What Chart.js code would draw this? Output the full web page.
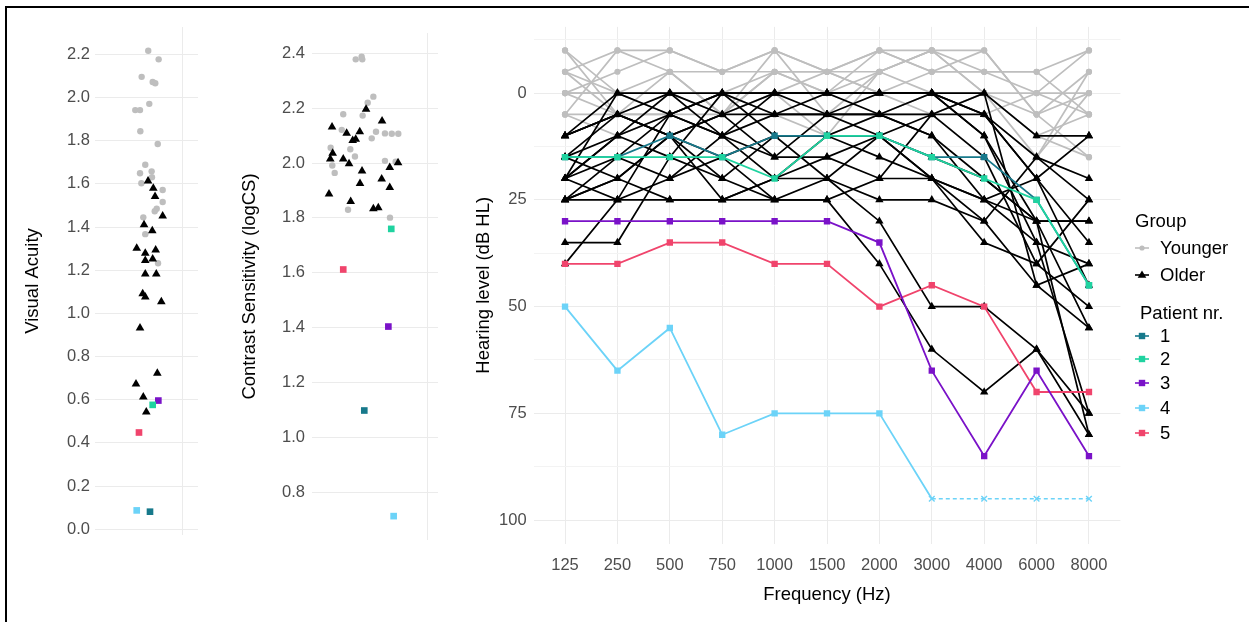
<!DOCTYPE html>
<html>
<head>
<meta charset="utf-8">
<title>Visual acuity, contrast sensitivity and hearing level</title>
<script src="https://cdn.jsdelivr.net/npm/chart.js@4.4.1/dist/chart.umd.min.js"></script>
<style>
    body { margin: 0; background: #fff; font-family: "Liberation Sans", Arial, sans-serif; }
    #page { position: relative; width: 1249px; height: 622px; overflow: hidden; background: #fff; }
    #frame { position: absolute; left: 5px; top: 6px; width: 1300px; height: 700px; border-top: 2px solid #000; border-left: 2px solid #000; }
    .panel { position: absolute; }
    .lg { position: absolute; font-size: 18.5px; line-height: 22px; color: #000; white-space: nowrap; }
    .lg svg { position: absolute; left: 0; top: 4px; }
    .lg span { position: absolute; left: 25px; top: 0; }
</style>
</head>
<body>
<div id="page">
    <div id="frame"></div>
    <canvas id="chart-va" class="panel" width="200" height="570" style="left:10px;top:10px"></canvas>
    <canvas id="chart-cs" class="panel" width="220" height="570" style="left:230px;top:10px"></canvas>
    <canvas id="chart-hl" class="panel" width="779" height="612" style="left:470px;top:10px"></canvas>
    <div id="legend"></div>
</div>
<script>
// ============================================
// DATA
// ============================================

const patientNames = ['1', '2', '3', '4', '5'];
const patientColors = ['#17798b', '#1fd3a0', '#7a12c8', '#6cd3f8', '#f0446c'];

// Visual acuity (left panel), jitter = horizontal offset
const vaTicks = [0, 0.2, 0.4, 0.6, 0.8, 1.0, 1.2, 1.4, 1.6, 1.8, 2.0, 2.2];
const vaYounger = [2.217, 2.177, 2.096, 2.072, 2.066, 1.942, 1.942, 1.971, 1.844, 1.785, 1.689,
    1.649, 1.658, 1.631, 1.603, 1.572, 1.516, 1.485, 1.473, 1.445, 1.367, 1.232];
const vaYoungerJit = [0.017, 0.118, -0.047, 0.060, 0.085, -0.109, -0.063, 0.027, -0.060, 0.109, -0.012,
    -0.063, 0.050, 0.053, -0.050, 0.157, 0.157, 0.099, 0.080, -0.031, -0.012, 0.112];
const vaOlder = [1.613, 1.580, 1.541, 1.451, 1.411, 1.383, 1.302, 1.279, 1.294, 1.245, 1.252,
    1.183, 1.183, 1.091, 1.076, 1.054, 0.932, 0.722, 0.673, 0.613, 0.543];
const vaOlderJit = [0.015, 0.066, 0.083, 0.157, -0.024, 0.056, -0.095, -0.012, 0.089, -0.012, 0.060,
    -0.012, 0.095, -0.037, -0.012, 0.144, -0.063, 0.105, -0.102, -0.031, -0.002];
const vaPatients = [0.081, 0.576, 0.596, 0.087, 0.448];
const vaPatientsJit = [0.034, 0.060, 0.115, -0.095, -0.073];

// Contrast sensitivity (middle panel)
const csTicks = [0.8, 1.0, 1.2, 1.4, 1.6, 1.8, 2.0, 2.2, 2.4];
const csYounger = [2.378, 2.388, 2.378, 2.242, 2.220, 2.178, 2.173, 2.121, 2.114, 2.108, 2.107,
    2.107, 2.090, 2.056, 2.050, 1.991, 2.024, 2.008, 1.964, 2.005, 1.830, 1.801];
const csYoungerJit = [-0.153, -0.106, -0.101, -0.013, -0.058, -0.252, -0.098, -0.264, 0.008, 0.079, 0.133,
    0.185, -0.026, -0.352, -0.196, -0.339, -0.159, 0.079, -0.320, 0.164, -0.214, 0.119];
const csOlder = [2.131, 2.196, 2.153, 2.109, 2.114, 2.082, 2.087, 2.036, 2.015, 2.015, 1.997,
    2.001, 1.984, 1.971, 1.925, 1.942, 1.911, 1.887, 1.860, 1.833, 1.837];
const csOlderJit = [-0.341, -0.071, 0.056, -0.225, -0.121, -0.177, -0.153, -0.336, -0.355, -0.252, -0.206,
    0.183, 0.117, -0.103, -0.119, 0.053, 0.117, -0.365, -0.193, -0.013, 0.026];
const csPatients = [1.098, 1.760, 1.404, 0.713, 1.612];
const csPatientsJit = [-0.085, 0.129, 0.106, 0.148, -0.252];

// Audiogram (right panel)
const freqs = ['125', '250', '500', '750', '1000', '1500', '2000', '3000', '4000', '6000', '8000'];
const hlTicks = [-12.5, 0, 12.5, 25, 37.5, 50, 62.5, 75, 87.5, 100];

const hlYounger = [
    [-10, 5, 5, 10, 5, 10, 5, 5, 0, 5, 15],
    [-5, -10, -10, -5, -10, -5, -10, -10, -10, 5, -5],
    [0, 0, 0, 0, 0, 0, 0, 0, 0, 0, 0],
    [5, -10, -5, -5, -5, -5, -5, -10, -5, 0, -10],
    [-5, 5, 10, 5, -5, 0, -10, -5, -10, 5, 0],
    [5, 5, -5, 5, -10, 5, -5, -10, 0, 10, 5],
    [0, 5, 5, 0, -5, -5, 0, -5, -5, -5, 5],
    [-10, 0, -5, 5, 0, 10, -5, 0, 5, 15, -5],
    [0, -5, -10, -5, -10, -5, -10, -5, -5, -5, -10],
    [-5, 0, 0, 5, -5, 0, -5, -10, 0, 10, 15],
    [5, 10, 5, 5, 0, -5, 0, 5, 0, 15, 0],
    [0, 0, 5, 0, 5, 5, 5, 0, 5, 0, 5]
];

const hlOlder = [
    [10, 0, 0, 0, 0, 0, 0, 0, 0, 10, 10],
    [10, 5, 10, 5, 5, 0, 0, 0, 5, 15, 20],
    [15, 10, 5, 0, 0, 5, 0, 0, 10, 35, 75],
    [20, 0, 5, 10, 5, 5, 5, 10, 25, 30, 30],
    [20, 10, 0, 5, 0, 0, 5, 5, 15, 40, 50],
    [25, 15, 5, 0, 10, 10, 15, 20, 30, 45, 55],
    [25, 20, 10, 5, 15, 15, 20, 20, 35, 40, 25],
    [10, 5, 10, 20, 10, 10, 10, 15, 20, 30, 30],
    [20, 25, 20, 10, 20, 20, 25, 25, 30, 15, 25],
    [35, 35, 15, 0, 5, 5, 10, 20, 25, 35, 40],
    [40, 25, 5, 10, 0, 0, 0, 0, 10, 30, 80],
    [15, 20, 25, 25, 20, 15, 10, 20, 25, 20, 35],
    [25, 25, 25, 25, 25, 25, 40, 60, 70, 60, 80],
    [20, 15, 20, 15, 10, 20, 30, 50, 50, 60, 75],
    [10, 5, 0, 10, 15, 5, 5, 0, 5, 20, 10],
    [25, 20, 10, 15, 25, 25, 20, 5, 5, 20, 45],
    [20, 10, 15, 20, 25, 20, 10, 5, 0, 45, 40],
    [15, 5, 10, 25, 20, 10, 5, 10, 20, 30, 55]
];

const hlPat1 = [15, 15, 10, 15, 10, 10, 10, 15, 15, 25, 45];
const hlPat2 = [15, 15, 15, 15, 20, 10, 10, 15, 20, 25, 45];
const hlPat3 = [30, 30, 30, 30, 30, 30, 35, 65, 85, 65, 85];
const hlPat4 = [50, 65, 55, 80, 75, 75, 75, 95, 95, 95, 95];
const hlPat4NoResponse = [false, false, false, false, false, false, false, true, true, true, true];
const hlPat5 = [40, 40, 35, 35, 40, 40, 50, 45, 50, 70, 70];

// ============================================
// DEFAULTS
// ============================================

const FONT = '"Liberation Sans", Arial, sans-serif';
Chart.defaults.font.family = FONT;
Chart.defaults.animation = false;
Chart.defaults.plugins.legend.display = false;
Chart.defaults.plugins.tooltip.enabled = false;

const GRID = '#ebebeb';
const TICK_COLOR = '#4d4d4d';
const GREY = '#bebebe';

function pts(vals, jit) {
    return vals.map((v, i) => ({ x: jit[i], y: v }));
}

// ============================================
// STRIP CHARTS (VA + CS)
// ============================================

function stripDatasets(yVals, yJit, oVals, oJit, pVals, pJit) {
    const ds = [];
    pVals.forEach((v, i) => {
        ds.push({
            data: [{ x: pJit[i], y: v }],
            pointStyle: 'rect',
            pointRadius: 4.7,
            backgroundColor: patientColors[i],
            borderWidth: 0,
            order: 0
        });
    });
    ds.push({
        data: pts(oVals, oJit),
        pointStyle: 'triangle',
        pointRadius: 5,
        backgroundColor: '#000',
        borderWidth: 0,
        order: 1
    });
    ds.push({
        data: pts(yVals, yJit),
        pointStyle: 'circle',
        pointRadius: 3.2,
        backgroundColor: GREY,
        borderWidth: 0,
        order: 2
    });
    return ds;
}

function initStripChart(id, datasets, cfg) {
    new Chart(document.getElementById(id), {
        type: 'scatter',
        data: { datasets: datasets },
        options: {
            responsive: false,
            devicePixelRatio: 1,
            layout: { padding: cfg.padding },
            scales: {
                x: {
                    type: 'linear',
                    min: -0.5,
                    max: 0.5,
                    afterBuildTicks: s => { s.ticks = [{ value: cfg.gridX }]; },
                    ticks: { display: false },
                    grid: { color: GRID, drawTicks: false },
                    border: { display: false },
                    afterFit: s => { s.height = 0; }
                },
                y: {
                    min: cfg.min,
                    max: cfg.max,
                    afterBuildTicks: s => { s.ticks = cfg.ticks.map(v => ({ value: v })); },
                    ticks: {
                        color: TICK_COLOR,
                        font: { size: 16.5 },
                        padding: cfg.tickPad,
                        callback: v => v.toFixed(1)
                    },
                    grid: { color: GRID, drawTicks: false },
                    border: { display: false },
                    title: {
                        display: true,
                        text: cfg.title,
                        color: '#000',
                        font: { size: 18.5 },
                        padding: { top: cfg.titlePad, bottom: 0 }
                    },
                    afterFit: s => { s.width = cfg.axisWidth; }
                }
            }
        }
    });
}

// ============================================
// AUDIOGRAM
// ============================================

function linePts(vals) {
    return vals.map((v, i) => ({ x: i, y: v }));
}

function hearingDatasets() {
    const ds = [];
    const pats = [hlPat1, hlPat2, hlPat3, hlPat5];
    const patIdx = [0, 1, 2, 4];

    pats.forEach((vals, k) => {
        const c = patientColors[patIdx[k]];
        ds.push({
            data: linePts(vals),
            borderColor: c,
            borderWidth: 1.8,
            pointStyle: 'rect',
            pointRadius: 4.5,
            pointBackgroundColor: c,
            pointBorderWidth: 0,
            order: patIdx[k] === 0 ? 1 : 0
        });
    });

    // patient 4: measured part solid, no-response part dashed with crosses
    const c4 = patientColors[3];
    const measured = hlPat4.map((v, i) => (i === 0 || !hlPat4NoResponse[i - 1]) ? v : null);
    ds.push({
        data: linePts(measured),
        borderColor: c4,
        borderWidth: 1.8,
        pointStyle: 'rect',
        pointRadius: hlPat4NoResponse.map(nr => nr ? 0 : 4.5),
        pointBackgroundColor: c4,
        pointBorderWidth: 0,
        spanGaps: false,
        order: 0
    });
    const noResp = hlPat4.map((v, i) => (hlPat4NoResponse[i] ? v : null));
    ds.push({
        data: linePts(noResp),
        borderColor: c4,
        borderWidth: 1.5,
        borderDash: [4, 3],
        pointStyle: 'crossRot',
        pointRadius: 4,
        pointBorderColor: c4,
        pointBorderWidth: 1.4,
        spanGaps: false,
        order: 0
    });

    hlOlder.forEach(vals => {
        ds.push({
            data: linePts(vals),
            borderColor: '#000',
            borderWidth: 1.7,
            pointStyle: 'triangle',
            pointRadius: 4.8,
            pointBackgroundColor: '#000',
            pointBorderWidth: 0,
            order: 2
        });
    });

    hlYounger.forEach(vals => {
        ds.push({
            data: linePts(vals),
            borderColor: GREY,
            borderWidth: 1.7,
            pointStyle: 'circle',
            pointRadius: 3.1,
            pointBackgroundColor: GREY,
            pointBorderWidth: 0,
            order: 3
        });
    });
    return ds;
}

function initHearingChart() {
    new Chart(document.getElementById('chart-hl'), {
        type: 'line',
        data: { datasets: hearingDatasets() },
        options: {
            responsive: false,
            devicePixelRatio: 1,
            layout: { padding: { left: 0, right: 128.6, top: 14.5, bottom: 0 } },
            elements: { line: { tension: 0 } },
            scales: {
                x: {
                    type: 'linear',
                    min: -0.6,
                    max: 10.6,
                    afterBuildTicks: s => { s.ticks = freqs.map((f, i) => ({ value: i })); },
                    ticks: {
                        color: TICK_COLOR,
                        font: { size: 16.5 },
                        padding: 12,
                        maxRotation: 0,
                        callback: v => freqs[v]
                    },
                    grid: { color: GRID, drawTicks: false },
                    border: { display: false },
                    title: {
                        display: true,
                        text: 'Frequency (Hz)',
                        color: '#000',
                        font: { size: 18.5 },
                        padding: { top: 0, bottom: 16 }
                    },
                    afterFit: s => { s.height = 78.4; }
                },
                y: {
                    reverse: true,
                    min: -15.5,
                    max: 105.5,
                    afterBuildTicks: s => { s.ticks = hlTicks.map(v => ({ value: v })); },
                    ticks: {
                        color: TICK_COLOR,
                        font: { size: 16.5 },
                        padding: 7,
                        callback: v => (v % 25 === 0 ? String(v) : '')
                    },
                    grid: {
                        color: ctx => (ctx.tick && ctx.tick.value % 25 === 0 ? GRID : '#f3f3f3'),
                        drawTicks: false
                    },
                    border: { display: false },
                    title: {
                        display: true,
                        text: 'Hearing level (dB HL)',
                        color: '#000',
                        font: { size: 18.5 },
                        padding: { top: 3, bottom: 0 }
                    },
                    afterFit: s => { s.width = 63.6; }
                }
            }
        }
    });
}

// ============================================
// LEGEND (HTML)
// ============================================

function keySvg(color, shape) {
    let mark = '';
    if (shape === 'circle') mark = `<circle cx="7" cy="7" r="2.6" fill="${color}"/>`;
    if (shape === 'triangle') mark = `<polygon points="7,2.5 11.3,9.8 2.7,9.8" fill="${color}"/>`;
    if (shape === 'rect') mark = `<rect x="3.8" y="3.8" width="6.4" height="6.4" fill="${color}"/>`;
    return `<svg width="15" height="14" viewBox="0 0 15 14"><line x1="0" y1="7" x2="14" y2="7" stroke="${color}" stroke-width="1.6"/>${mark}</svg>`;
}

function buildLegend() {
    const el = document.getElementById('legend');
    let html = '';
    html += `<div class="lg" style="left:1135px;top:210px">Group</div>`;
    html += `<div class="lg" style="left:1135px;top:237px">${keySvg(GREY, 'circle')}<span>Younger</span></div>`;
    html += `<div class="lg" style="left:1135px;top:264px">${keySvg('#000', 'triangle')}<span>Older</span></div>`;
    html += `<div class="lg" style="left:1140px;top:302px">Patient nr.</div>`;
    const rowTops = [325, 348, 372, 397, 422];
    patientNames.forEach((name, i) => {
        html += `<div class="lg" style="left:1135px;top:${rowTops[i]}px">${keySvg(patientColors[i], 'rect')}<span>${name}</span></div>`;
    });
    el.innerHTML = html;
}

// ============================================
// INIT
// ============================================

initStripChart('chart-va',
    stripDatasets(vaYounger, vaYoungerJit, vaOlder, vaOlderJit, vaPatients, vaPatientsJit),
    { min: -0.027, max: 2.327, ticks: vaTicks, gridX: 0.354, title: 'Visual Acuity',
      titlePad: 12, tickPad: 5, axisWidth: 85, padding: { left: 0, right: 12, top: 17, bottom: 45 } });

initStripChart('chart-cs',
    stripDatasets(csYounger, csYoungerJit, csOlder, csOlderJit, csPatients, csPatientsJit),
    { min: 0.626, max: 2.474, ticks: csTicks, gridX: 0.413, title: 'Contrast Sensitivity (logCS)',
      titlePad: 9, tickPad: 7, axisWidth: 82, padding: { left: 0, right: 12, top: 23, bottom: 40 } });

initHearingChart();
buildLegend();
</script>
</body>
</html>
